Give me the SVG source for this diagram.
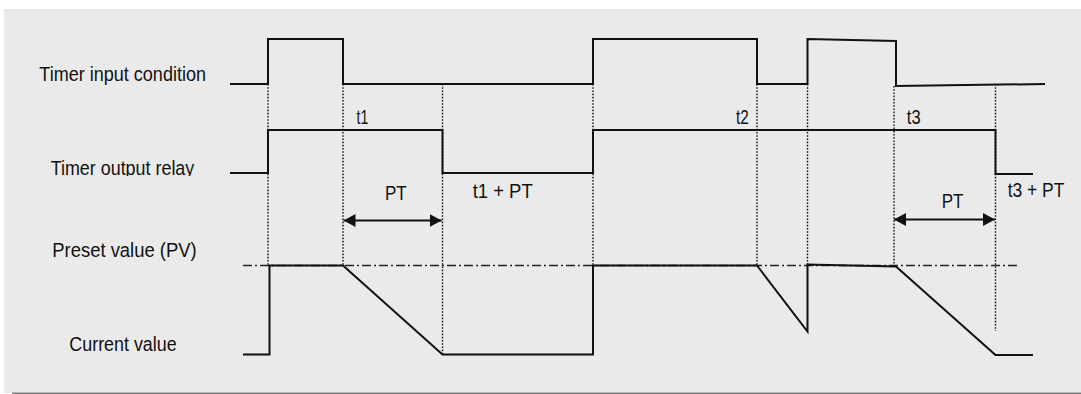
<svg xmlns="http://www.w3.org/2000/svg" width="1081" height="394" viewBox="0 0 1081 394">
  <style>
    .lbl { font-family: "Liberation Sans", Arial, sans-serif; font-size: 20.5px; fill: #111; }
    .wave { fill: none; stroke: #111; stroke-width: 2; stroke-linejoin: miter; }
    .dot { fill: none; stroke: #111; stroke-width: 1.4; stroke-dasharray: 1.6 1.6; }
    .pv { fill: none; stroke: #222; stroke-width: 1.6; stroke-dasharray: 9 3 2 3; }
    .dim { fill: none; stroke: #111; stroke-width: 2; }
  </style>
  <defs>
    <marker id="ah" viewBox="0 0 12 13" refX="12" refY="6.5" markerWidth="12" markerHeight="13" markerUnits="userSpaceOnUse" orient="auto-start-reverse">
      <path d="M0,0 L12,6.5 L0,13 Z" fill="#111"/>
    </marker>
    <clipPath id="clipRelay">
      <rect x="40" y="150" width="170" height="26"/>
    </clipPath>
  </defs>

  <rect id="background" x="4" y="9" width="1077" height="384" fill="#eaeaea"/>
  <line x1="12" y1="393.3" x2="1081" y2="393.3" stroke="#7f7f7f" stroke-width="1.5"/>

  <g id="labels">
    <text class="lbl" x="39.3" y="81" textLength="166.7" lengthAdjust="spacingAndGlyphs">Timer input condition</text>
    <text class="lbl" x="50.7" y="175" textLength="143.6" lengthAdjust="spacingAndGlyphs" clip-path="url(#clipRelay)">Timer output relay</text>
    <text class="lbl" x="52.3" y="256.7" textLength="144.3" lengthAdjust="spacingAndGlyphs">Preset value (PV)</text>
    <text class="lbl" x="69.3" y="350.7" textLength="107.4" lengthAdjust="spacingAndGlyphs">Current value</text>
  </g>

  <g id="connectors">
    <g id="guides">
      <line class="dot" x1="268" y1="84" x2="268" y2="265"/>
      <line class="dot" x1="343" y1="84" x2="343" y2="265"/>
      <line class="dot" x1="442.5" y1="84" x2="442.5" y2="354.5"/>
      <line class="dot" x1="593" y1="84" x2="593" y2="265"/>
      <line class="dot" x1="757" y1="84" x2="757" y2="265"/>
      <line class="dot" x1="807.5" y1="84" x2="807.5" y2="265"/>
      <line class="dot" x1="894" y1="86" x2="894" y2="265"/>
      <line class="dot" x1="995.5" y1="84" x2="995.5" y2="331"/>
    </g>
    <path id="pv-line" class="pv" d="M243,265.5 H1020"/>
    <line id="pt-arrow-1" class="dim" x1="343.5" y1="220.5" x2="441.7" y2="220.5" marker-start="url(#ah)" marker-end="url(#ah)"/>
    <line id="pt-arrow-2" class="dim" x1="894" y1="219.5" x2="995" y2="219.5" marker-start="url(#ah)" marker-end="url(#ah)"/>
  </g>

  <g id="input-wave">
    <path class="wave" d="M230,84 H268 V39 H343 V84 H593 V39 H757 V84 H807.5 V39 L896,41 V86 L1045,84"/>
  </g>
  <g id="output-wave">
    <path class="wave" d="M230,173 H268 V130 H442.5 V173 H593 V130 H995.5 V174 H1033"/>
  </g>
  <g id="current-wave">
    <path class="wave" d="M243,354.5 H269.5 V265.5 H343 L442.5,354.5 H593 V265.5 H757 L807.5,331.5 V264.5 L896,266.5 L995.5,355 H1033"/>
  </g>

  <g id="time-labels">
    <text class="lbl" x="356.5" y="124" textLength="11.8" lengthAdjust="spacingAndGlyphs">t1</text>
    <text class="lbl" x="736" y="124" textLength="12.8" lengthAdjust="spacingAndGlyphs">t2</text>
    <text class="lbl" x="906.8" y="124" textLength="13.8" lengthAdjust="spacingAndGlyphs">t3</text>
    <text class="lbl" x="385" y="200" textLength="21.7" lengthAdjust="spacingAndGlyphs">PT</text>
    <text class="lbl" x="472.7" y="198.3" textLength="60" lengthAdjust="spacingAndGlyphs">t1 + PT</text>
    <text class="lbl" x="941.7" y="208.3" textLength="21.7" lengthAdjust="spacingAndGlyphs">PT</text>
    <text class="lbl" x="1007.7" y="196.7" textLength="56.7" lengthAdjust="spacingAndGlyphs">t3 + PT</text>
  </g>
</svg>
